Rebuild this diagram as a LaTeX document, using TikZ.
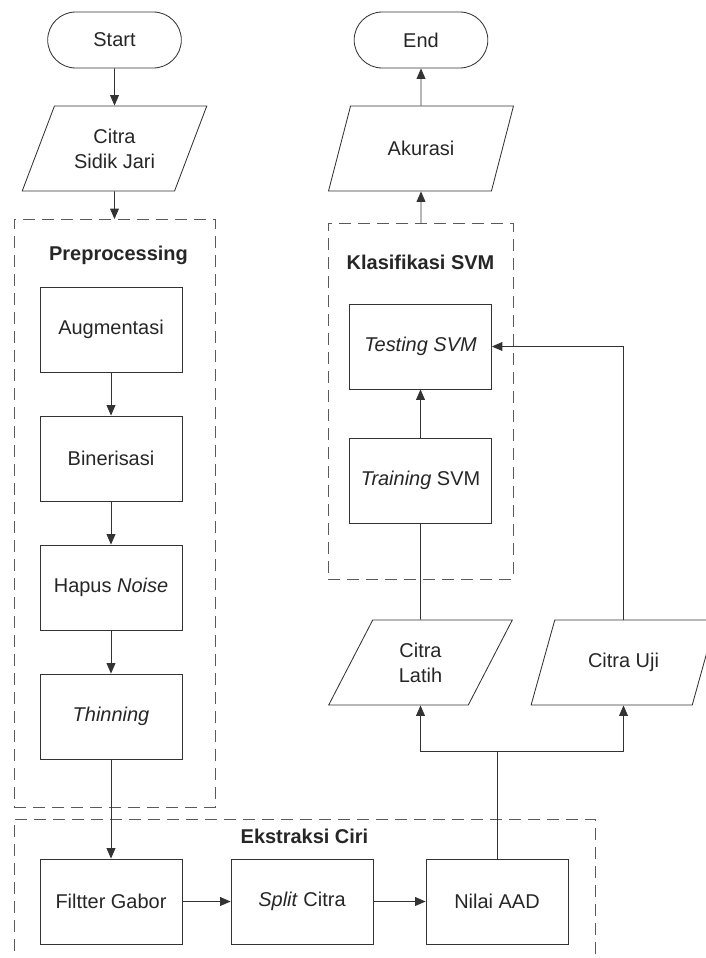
\documentclass[tikz,border=0pt]{standalone}
\usepackage{fontspec}
\setmainfont{Liberation Sans}
\usepackage{xcolor}
\usepackage{tikz}
\usetikzlibrary{shapes.geometric, shapes.misc, arrows.meta, positioning}
\definecolor{linegray}{HTML}{333333}
\definecolor{framegray}{HTML}{5A5A5A}
\tikzstyle{terminal} = [rounded rectangle, minimum width=3.575cm, minimum height=1.4cm, text centered, draw=linegray, line width=0.6pt]
\tikzstyle{io} = [trapezium, trapezium left angle=63.7, trapezium right angle=116.3, trapezium stretches=true, minimum width=4.625cm, minimum height=2.125cm, align=center, draw=linegray, line width=0.6pt]
\tikzstyle{process} = [rectangle, minimum width=3.55cm, minimum height=2.125cm, text centered, draw=linegray, line width=0.6pt]
\tikzstyle{stagebox} = [rectangle, inner sep=0pt, outer sep=0pt, draw=framegray, line width=0.7pt, dash pattern=on 0.3cm off 0.175cm]
\tikzstyle{stagetitle} = [font=\fontsize{14.2}{17.8}\selectfont\bfseries]
\tikzstyle{arrow} = [line width=0.6pt, ->, >={Triangle[length=0.26cm, width=0.22cm]}, draw=linegray]
\tikzstyle{link} = [line width=0.6pt, draw=linegray]

\begin{document}
\begin{tikzpicture}[node distance=3.225cm, font=\fontsize{14.2}{17.8}\selectfont, text=black!85]
    \useasboundingbox (0,0) rectangle (17.65,-23.95);

    % dashed stage frames
    \node (prepbox) [stagebox, minimum width=5.025cm, minimum height=14.7cm] at (2.8625,-12.825) {};
    \node (klasbox) [stagebox, minimum width=4.625cm, minimum height=8.9cm] at (10.5125,-10.025) {};
    \node (ekstbox) [stagebox, minimum width=14.525cm, minimum height=4.525cm] at (7.6125,-22.7375) {};
    \node (preptitle) [stagetitle] at ([xshift=0.1cm, yshift=-0.9cm]prepbox.north) {Preprocessing};
    \node (klastitle) [stagetitle] at ([yshift=-0.975cm]klasbox.north) {Klasifikasi SVM};
    \node (eksttitle) [stagetitle] at ([yshift=-0.425cm]ekstbox.north) {Ekstraksi Ciri};

    % left column
    \node (start) [terminal] at (2.8625,-1.0) {Start};
    \node (sidik) [io, below of=start, yshift=0.5125cm] {Citra\\Sidik Jari};
    \node (augment) [process] at (2.775,-8.2375) {Augmentasi};
    \node (biner) [process, below of=augment] {Binerisasi};
    \node (noise) [process, below of=biner] {Hapus \textit{Noise}};
    \node (thin) [process, below of=noise] {\textit{Thinning}};

    % feature extraction row
    \node (gabor) [process, below of=thin, yshift=-1.4cm] {Filtter Gabor};
    \node (split) [process, right of=gabor, xshift=1.55cm] {\textit{Split} Citra};
    \node (aad) [process, right of=split, xshift=1.65cm] {Nilai AAD};

    % right column
    \node (end) [terminal] at (10.525,-1.0) {End};
    \node (akurasi) [io, below of=end, yshift=0.5125cm] {Akurasi};
    \node (testing) [process] at (10.5125,-8.6625) {\textit{Testing SVM}};
    \node (training) [process, below of=testing, yshift=-0.125cm] {\textit{Training} SVM};
    \node (latih) [io, below of=training, yshift=-1.325cm] {Citra\\Latih};
    \node (uji) [io, right of=latih, xshift=1.85cm] {Citra Uji};
    \coordinate (split point) at ([yshift=2.675cm]aad.north);

    \draw [arrow] (start) -- (sidik);
    \draw [arrow] (sidik) -- (prepbox.north -| sidik);
    \draw [arrow] (augment) -- (biner);
    \draw [arrow] (biner) -- (noise);
    \draw [arrow] (noise) -- (thin);
    \draw [arrow] (thin) -- (gabor);
    \draw [arrow] (gabor) -- (split);
    \draw [arrow] (split) -- (aad);
    \draw [link] (aad.north) -- (split point);
    \draw [arrow] (split point) -| (latih.south);
    \draw [arrow] (split point) -| (uji.south);
    \draw [link] (latih.north) -- (training.south);
    \draw [arrow] (training) -- (testing);
    \draw [arrow] (uji.north) |- (testing.east);
    \draw [arrow] (klasbox.north -| akurasi) -- (akurasi);
    \draw [arrow] (akurasi) -- (end);
\end{tikzpicture}
\end{document}
